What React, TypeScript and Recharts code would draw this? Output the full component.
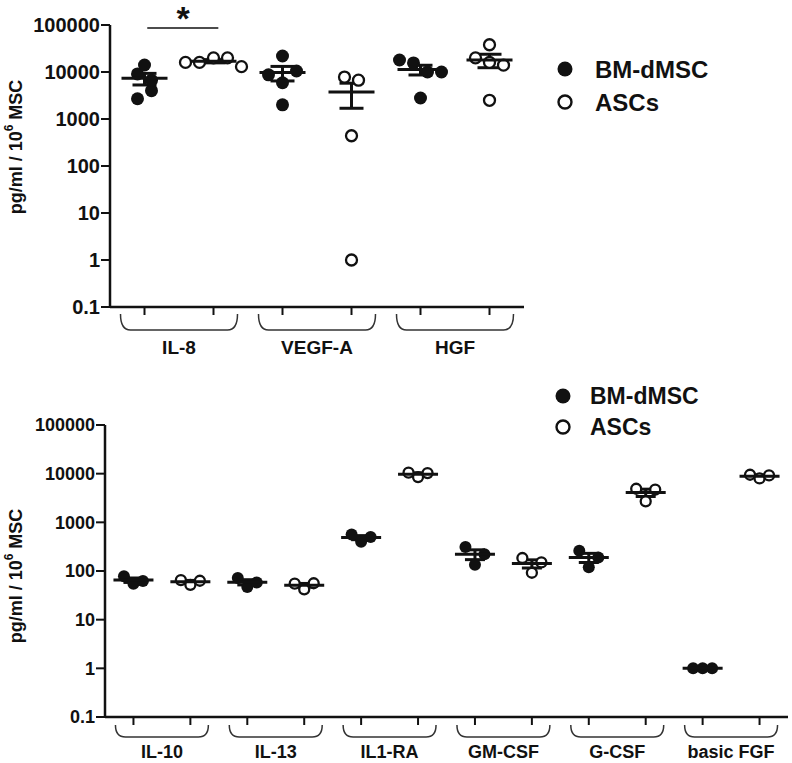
import React from 'react';
import { ScatterChart, Scatter, XAxis, YAxis, ErrorBar, ReferenceLine } from 'recharts';

// log axis ticks shared by both panels
const Y_TICKS = [0.1, 1, 10, 100, 1000, 10000, 100000];

// upper panel: 5 donors per group (VEGF-A ASCs has 4 readable points)
const TOP_CATEGORIES = ['IL-8', 'VEGF-A', 'HGF'];
const TOP_BM = [
  [9100, 14100, 2700, 4000, 6700],
  [21900, 8700, 5900, 10500, 2000],
  [18000, 15600, 10000, 10000, 2800],
];
const TOP_ASC = [
  [16000, 16000, 20000, 20000, 13000],
  [7800, 6700, 440, 1],
  [38000, 20000, 16000, 14000, 2500],
];

// lower panel: 3 donors per group
const BOTTOM_CATEGORIES = ['IL-10', 'IL-13', 'IL1-RA', 'GM-CSF', 'G-CSF', 'basic FGF'];
const BOTTOM_BM = [
  [78, 55, 62],
  [72, 47, 58],
  [560, 400, 500],
  [310, 135, 220],
  [260, 120, 190],
  [1, 1, 1],
];
const BOTTOM_ASC = [
  [65, 52, 63],
  [55, 42, 56],
  [10500, 8500, 10300],
  [185, 92, 150],
  [4900, 2700, 4700],
  [9500, 8000, 9200],
];

const FONT = '"Liberation Sans", Arial, Helvetica, sans-serif';
const INK = '#111';

const mean = (a: number[]) => a.reduce((s, v) => s + v, 0) / a.length;
const sem = (a: number[]) => {
  if (a.length < 2) return 0;
  const m = mean(a);
  const v = a.reduce((s, x) => s + (x - m) ** 2, 0) / (a.length - 1);
  return Math.sqrt(v / a.length);
};

// prism-like scatter: dots that fall in the same vertical band are laid side by side
function spread(values: number[], decadePx: number, rowGap: number, step: number) {
  const ys = values.map((v) => Math.log10(v) * decadePx);
  const order = values.map((_, i) => i).sort((a, b) => ys[a] - ys[b]);
  const rows: number[][] = [];
  let start = -Infinity;
  order.forEach((i) => {
    if (rows.length && ys[i] - start < rowGap) rows[rows.length - 1].push(i);
    else {
      rows.push([i]);
      start = ys[i];
    }
  });
  const offs = new Array(values.length).fill(0);
  rows.forEach((row) => {
    row.sort((a, b) => a - b);
    row.forEach((idx, j) => {
      offs[idx] = (j - (row.length - 1) / 2) * step;
    });
  });
  return offs;
}

interface PanelProps {
  categories: string[];
  bm: number[][];
  asc: number[][];
  width: number;
  height: number;
  margin: { top: number; right: number; bottom: number; left: number };
  yAxisWidth: number;
  xAxisHeight: number;
  plotW: number;
  plotH: number;
  tickFont: number;
  labelFont: number;
  r: number;
  rowGap: number;
  step: number;
  meanHalf: number;
  capHalf: number;
  bracePad: number;
  braceTop: number;
  braceBottom: number;
  labelDy: number;
  children?: React.ReactNode;
}

const Panel = (p: PanelProps) => {
  const nGroups = p.categories.length * 2;
  const unitPx = p.plotW / nGroups;
  const decadePx = p.plotH / 6;

  const bmPts: { x: number; y: number }[] = [];
  const ascPts: { x: number; y: number }[] = [];
  const means: { x: number; y: number; sem: number }[] = [];
  p.categories.forEach((_, i) => {
    const groups: [number[], typeof bmPts, number][] = [
      [p.bm[i], bmPts, 2 * i],
      [p.asc[i], ascPts, 2 * i + 1],
    ];
    groups.forEach(([vals, out, g]) => {
      const offs = spread(vals, decadePx, p.rowGap, p.step);
      vals.forEach((v, k) => out.push({ x: g + offs[k] / unitPx, y: v }));
      means.push({ x: g, y: mean(vals), sem: sem(vals) });
    });
  });

  const ticks = Array.from({ length: nGroups }, (_, i) => i);

  const BraceTick = (props: any) => {
    const { x, y, payload } = props;
    const g = payload.value;
    if (g % 2 !== 0) return <g />;
    const xl = x - p.bracePad;
    const xr = x + unitPx + p.bracePad;
    const yt = y + p.braceTop;
    const yb = y + p.braceBottom;
    const rr = 10;
    return (
      <g>
        <path
          d={`M${xl},${yt} Q${xl},${yb} ${xl + rr},${yb} L${xr - rr},${yb} Q${xr},${yb} ${xr},${yt}`}
          fill="none"
          stroke="#333"
          strokeWidth={1.5}
        />
        <text
          x={x + unitPx / 2}
          y={y + p.labelDy}
          textAnchor="middle"
          dominantBaseline="central"
          fontFamily={FONT}
          fontWeight="bold"
          fontSize={p.labelFont}
          fill={INK}
        >
          {p.categories[g / 2]}
        </text>
      </g>
    );
  };

  return (
    <ScatterChart width={p.width} height={p.height} margin={p.margin}>
      <XAxis
        type="number"
        dataKey="x"
        domain={[-0.5, nGroups - 0.5]}
        ticks={ticks}
        interval={0}
        allowDataOverflow
        height={p.xAxisHeight}
        tick={BraceTick}
        tickSize={8}
        tickMargin={0}
        axisLine={{ stroke: INK, strokeWidth: 2.5 }}
        tickLine={{ stroke: INK, strokeWidth: 2 }}
      />
      <YAxis
        type="number"
        dataKey="y"
        scale="log"
        domain={[0.1, 100000]}
        ticks={Y_TICKS}
        interval={0}
        allowDataOverflow
        width={p.yAxisWidth}
        tickSize={9}
        tickMargin={1}
        tickFormatter={(v: number) => String(v)}
        tick={{ fill: INK, fontSize: p.tickFont, fontWeight: 'bold', fontFamily: FONT }}
        axisLine={{ stroke: INK, strokeWidth: 2.5 }}
        tickLine={{ stroke: INK, strokeWidth: 2 }}
      />
      <Scatter
        data={bmPts}
        isAnimationActive={false}
        shape={(s: any) => <circle cx={s.cx} cy={s.cy} r={p.r} fill={INK} />}
      />
      <Scatter
        data={ascPts}
        isAnimationActive={false}
        shape={(s: any) => <circle cx={s.cx} cy={s.cy} r={p.r - 1} fill="#fff" stroke={INK} strokeWidth={2.3} />}
      />
      <Scatter
        data={means}
        isAnimationActive={false}
        shape={(s: any) => (
          <line x1={s.cx - p.meanHalf} x2={s.cx + p.meanHalf} y1={s.cy} y2={s.cy} stroke={INK} strokeWidth={3} />
        )}
      >
        <ErrorBar dataKey="sem" direction="y" width={p.capHalf} stroke={INK} strokeWidth={3} />
      </Scatter>
      {p.children}
    </ScatterChart>
  );
};

const YLabel = ({ x, y }: { x: number; y: number }) => (
  <text
    transform={`translate(${x},${y}) rotate(-90)`}
    textAnchor="middle"
    dominantBaseline="central"
    fontFamily={FONT}
    fontWeight="bold"
    fontSize={18}
    fill={INK}
  >
    pg/ml / 10
    <tspan dy={-7} fontSize={12}>6</tspan>
    <tspan dy={7}> MSC</tspan>
  </text>
);

const LegendItems = ({ x, y1, y2, tx, size }: { x: number; y1: number; y2: number; tx: number; size: number }) => (
  <g fontFamily={FONT} fontWeight="bold" fontSize={size} fill={INK}>
    <circle cx={x} cy={y1} r={7.5} fill={INK} />
    <text x={tx} y={y1 + size * 0.36}>BM-dMSC</text>
    <circle cx={x} cy={y2} r={6.5} fill="#fff" stroke={INK} strokeWidth={2.4} />
    <text x={tx} y={y2 + size * 0.36}>ASCs</text>
  </g>
);

export default function App() {
  return (
    <div style={{ position: 'absolute', left: 0, top: 0, width: 792, height: 763, background: '#fff' }}>
      <div style={{ position: 'absolute', left: 0, top: 0 }}>
        <Panel
          categories={TOP_CATEGORIES}
          bm={TOP_BM}
          asc={TOP_ASC}
          width={792}
          height={380}
          margin={{ top: 25, right: 268, bottom: 13, left: 10 }}
          yAxisWidth={100}
          xAxisHeight={60}
          plotW={414}
          plotH={282}
          tickFont={20}
          labelFont={19}
          r={6.5}
          rowGap={13}
          step={14}
          meanHalf={23}
          capHalf={12}
          bracePad={24}
          braceTop={-1}
          braceBottom={15}
          labelDy={32}
        >
          <ReferenceLine
            segment={[
              { x: 0.04, y: 86000 },
              { x: 1.07, y: 86000 },
            ]}
            stroke={INK}
            strokeWidth={1.5}
            ifOverflow="visible"
          />
        </Panel>
      </div>
      <div style={{ position: 'absolute', left: 0, top: 380 }}>
        <Panel
          categories={BOTTOM_CATEGORIES}
          bm={BOTTOM_BM}
          asc={BOTTOM_ASC}
          width={792}
          height={383}
          margin={{ top: 45, right: 4, bottom: 6, left: 10 }}
          yAxisWidth={95}
          xAxisHeight={40}
          plotW={683}
          plotH={292}
          tickFont={18}
          labelFont={18}
          r={6}
          rowGap={40}
          step={9.5}
          meanHalf={20}
          capHalf={10}
          bracePad={18}
          braceTop={0}
          braceBottom={12}
          labelDy={27}
        />
      </div>
      <svg
        width={792}
        height={763}
        style={{ position: 'absolute', left: 0, top: 0, pointerEvents: 'none' }}
      >
        <YLabel x={16} y={147} />
        <YLabel x={16} y={576} />
        <text x={183} y={30} textAnchor="middle" fontFamily={FONT} fontWeight="bold" fontSize={34} fill={INK}>
          *
        </text>
        <LegendItems x={565} y1={69} y2={102} tx={595} size={24} />
        <LegendItems x={563} y1={396} y2={427} tx={590} size={23} />
      </svg>
    </div>
  );
}
